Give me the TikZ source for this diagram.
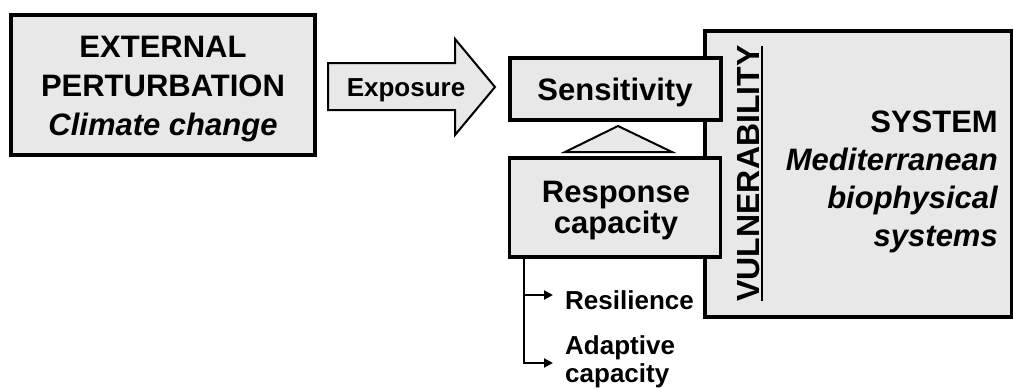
\documentclass[tikz,border=0pt]{standalone}
\usepackage{fontspec}
\setmainfont{Liberation Sans}
\usetikzlibrary{arrows.meta,calc}
\definecolor{boxgray}{HTML}{E8E8E8}
\begin{document}
\begin{tikzpicture}[x=1pt,y=-1pt,
  box/.style={draw, line width=3.5pt, fill=boxgray, inner sep=0pt},
  thinshape/.style={draw, line width=2pt, fill=boxgray, line join=miter},
  bigtext/.style={font=\fontsize{31}{39}\selectfont\bfseries, inner sep=0pt},
  smalltext/.style={font=\fontsize{26}{28}\selectfont\bfseries, inner sep=0pt},
  branch/.style={line width=2pt, -{Triangle[length=9pt,width=9pt]}}]
\useasboundingbox (0,0) rectangle (1014,388);

% system box (drawn first, so the two factor boxes overlap its left edge)
\node[box, minimum width=306.5pt, minimum height=286pt] (sys) at (858.25,174) {};
\node[bigtext, align=right, anchor=base east,
      font=\fontsize{31}{38}\selectfont\bfseries] (systxt) at (998,246)
  {SYSTEM\\\itshape Mediterranean\\\itshape biophysical\\\itshape systems};

% vulnerability label, rotated, with its underline
\node[bigtext, rotate=90, anchor=base, font=\fontsize{32}{38}\selectfont\bfseries]
  (vul) at (759.5,173.5) {VULNERABILITY};
\draw[line width=2pt] (762,46) -- (762,301);

% external perturbation
\node[box, minimum width=304pt, minimum height=140pt] (ext) at (163,85) {};
\node[bigtext, align=center, anchor=base] (exttxt) at (163,135)
  {EXTERNAL\\PERTURBATION\\\itshape Climate change};

% sensitivity and response capacity
\node[box, minimum width=211pt, minimum height=62pt] (sens) at (615.5,89) {};
\node[bigtext, anchor=base] (senstxt) at (615,100) {Sensitivity};
\node[box, minimum width=211pt, minimum height=99pt] (resp) at (615,207.5) {};
\node[bigtext, align=center, anchor=base, font=\fontsize{31}{31}\selectfont\bfseries]
  (resptxt) at (616,233) {Response\\capacity};

% triangle between response capacity and sensitivity
\draw[thinshape] (618,126) -- (672,152) -- (565,152) -- cycle;

% exposure arrow
\draw[thinshape] (328,63) -- (455,63) -- (455,39) -- (495,87) -- (455,135)
  -- (455,110) -- (328,110) -- cycle;
\node[smalltext, anchor=base] (expo) at (406,96.5) {Exposure};

% components of the response capacity
\node[smalltext, anchor=base west] (resil) at (565,309) {Resilience};
\node[smalltext, anchor=base west, align=left] (adapt) at (565,382)
  {Adaptive\\capacity};
\coordinate (brtop) at ($(resp.south west)+(16,0)$);
\coordinate (resend) at ($(resil.west)+(-12,0)$);
\coordinate (adend) at (553,363);
\draw[branch] (brtop) |- (resend |- 0,295);
\draw[branch] (brtop) |- (adend);
\end{tikzpicture}
\end{document}
